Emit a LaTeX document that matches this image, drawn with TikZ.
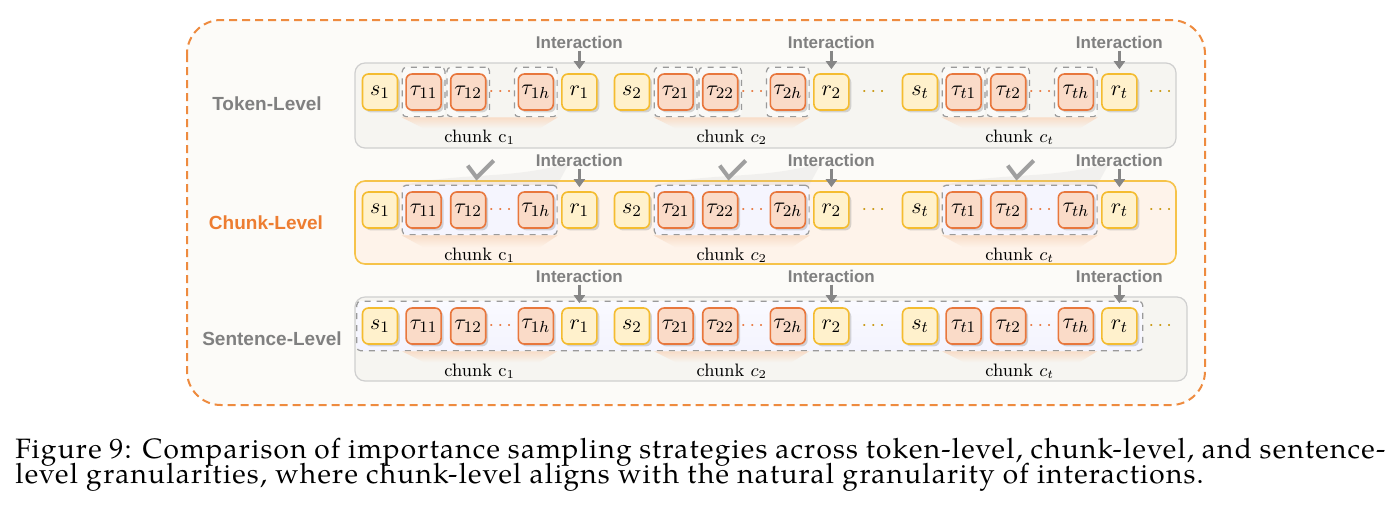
\documentclass[tikz,border=0pt]{standalone}
\usepackage{fontspec}
\setsansfont{Liberation Sans}
\newfontfamily\capfont{texgyrepagella-regular}[Extension=.otf,LetterSpace=4.5]
\usepackage{amsmath}
\usepackage{xcolor}
\usetikzlibrary{arrows.meta,positioning,fit,backgrounds,calc,shadows}

\definecolor{outerc}{HTML}{EE8B3F}
\definecolor{creamc}{HTML}{FCFBF8}
\definecolor{panelfill}{HTML}{F6F5F1}
\definecolor{panelline}{HTML}{CFCFCF}
\definecolor{chkfill}{HTML}{FEF3EA}
\definecolor{chkline}{HTML}{F6C34A}
\definecolor{taufill}{HTML}{FADBC8}
\definecolor{tauline}{HTML}{E8773D}
\definecolor{srfill}{HTML}{FFF1CC}
\definecolor{srline}{HTML}{F4BC30}
\definecolor{txtgray}{HTML}{808080}
\definecolor{chklab}{HTML}{ED7D31}
\definecolor{gdotc}{HTML}{C8960C}
\definecolor{grpline}{HTML}{9A9A9A}
\definecolor{fanc}{HTML}{F8DDC8}

\begin{document}
\begin{tikzpicture}[x=0.5pt,y=-0.5pt,>=Latex,
  srbox/.style={draw=srline,fill=srfill,rounded corners=3pt,line width=0.8pt,
    minimum width=17.5pt,minimum height=18pt,inner sep=0pt,font=\fontsize{11}{12}\selectfont,
    drop shadow={shadow xshift=1.2pt,shadow yshift=-1.2pt,opacity=0.3}},
  taubox/.style={srbox,draw=tauline,fill=taufill},
  tdots/.style={text=tauline,inner sep=0pt,font=\bfseries},
  gdots/.style={text=gdotc,inner sep=0pt,font=\bfseries},
  lvl/.style={font=\sffamily\bfseries\fontsize{9.5}{11}\selectfont},
  inter/.style={font=\sffamily\bfseries\fontsize{8.5}{10}\selectfont,text=txtgray,inner sep=1pt},
  iar/.style={-{Triangle[width=5.5pt,length=4pt]},line width=1.5pt,draw=gray!95},
  chunklab/.style={font=\small,inner sep=1pt},
  grp/.style={draw=grpline,dashed,rounded corners=2pt,line width=0.6pt,inner xsep=1.5pt,inner ysep=3pt},
  panel/.style={draw=panelline,fill=panelfill,rounded corners=5pt,line width=0.6pt},
  fan/.style={top color=fanc,bottom color=panelfill},
  beam/.style={fill=gray!60,fill opacity=0.14},
  tick/.style={draw=gray!75,line width=2pt},
  caption/.style={anchor=base west,inner sep=0pt,font=\capfont\fontsize{14}{15}\selectfont}]
\useasboundingbox (0,0) rectangle (1397,516);

% --- three rows of s / tau / r boxes ---
\foreach \lv/\ry in {tok/92,chk/210,sen/326}{
  \foreach \gx/\gi/\cn in {380/1/\mathrm{c}_1,632/2/c_2,920/t/c_t}{
    \node[srbox] (\lv-s\gi) at (\gx,\ry) {$s_{\gi}$};
    \node[taubox,right=3.5pt of \lv-s\gi] (\lv-a\gi) {$\tau_{\gi1}$};
    \node[taubox,right=4pt of \lv-a\gi] (\lv-b\gi) {$\tau_{\gi2}$};
    \node[taubox,right=15.5pt of \lv-b\gi] (\lv-h\gi) {$\tau_{\gi h}$};
    \node[srbox,right=3.5pt of \lv-h\gi] (\lv-r\gi) {$r_{\gi}$};
    \node[tdots] (\lv-d\gi) at ($(\lv-b\gi)!0.5!(\lv-h\gi)$) {$\cdots$};
    \node[inter] (\lv-i\gi) at ([yshift=25pt]\lv-r\gi) {Interaction};
    \draw[iar] (\lv-i\gi.south) -- ([yshift=2pt]\lv-r\gi.north);
    \node[chunklab] (\lv-c\gi) at ($($(\lv-a\gi)!0.5!(\lv-h\gi)$)+(0,45)$) {chunk $\cn$};
  }
  \node[gdots] (\lv-e2) at (875,\ry) {$\cdots$};
  \node[gdots] (\lv-et) at (1162,\ry) {$\cdots$};
}

\node[lvl,text=txtgray] (lv-tok) at (267,104) {Token-Level};
\node[lvl,text=chklab] (lv-chk) at (266,223) {Chunk-Level};
\node[lvl,text=txtgray] (lv-sen) at (272,339) {Sentence-Level};

\begin{scope}[on background layer]
\fill[white] (0,0) rectangle (1397,516);
\draw[outerc,dashed,line width=1pt,dash pattern=on 4pt off 2.5pt,fill=creamc,rounded corners=17pt]
  (187,20) rectangle (1205,405);
\draw[panel] (355,63) rectangle (1176,148);
\draw[panel,draw=chkline,fill=chkfill,line width=0.8pt] (355,181) rectangle (1176,264);
\draw[panel] (355,297) rectangle (1187,381);
% token-level: one dashed box per token
\foreach \gi in {1,2,t}{
  \foreach \k in {a,b,h}
    \node[grp,fill=white,fill opacity=0.5,fit=(tok-\k\gi)] (tok-g\k\gi) {};
  \shade[fan] (tok-ga\gi.south west) -- (tok-gh\gi.south east) -- ++(-18,11)
    -- ($(tok-ga\gi.south west)+(22,11)$) -- cycle;
}
% chunk-level: one dashed box per chunk
\foreach \gi in {1,2,t}{
  \fill[beam] ($(chk-a\gi.north west)+(-3,-6)$) coordinate (bw\gi) -- ($(chk-h\gi.north east)+(3,-6)$)
    -- ++(12,-22) to[out=195,in=12] (bw\gi) -- cycle;
  \node[grp,left color=gray!12!blue!4,middle color=gray!28!blue!6,right color=gray!12!blue!4,
    fit=(chk-a\gi)(chk-h\gi)] (chk-g\gi) {};
  \shade[top color=fanc,bottom color=chkfill] (chk-g\gi.south west) -- (chk-g\gi.south east)
    -- ++(-18,12) -- ($(chk-g\gi.south west)+(22,12)$) -- cycle;
}
% sentence-level: one dashed box for the whole response
\node[grp,inner xsep=2.5pt,top color=gray!6!blue!2,bottom color=gray!22!blue!5,
  fit=(sen-s1)(sen-rt)] (sen-g) {};
\foreach \gi in {1,2,t}
  \shade[fan] ($(sen-a\gi.west|-sen-g.south)+(-3,0)$) -- ($(sen-h\gi.east|-sen-g.south)+(3,0)$)
    -- ++(-18,11) -- ($(sen-a\gi.west|-sen-g.south)+(19,11)$) -- cycle;
\end{scope}

% ticks over the chunk-level boxes
\foreach \gi in {1,2,t}
  \draw[tick] ($(chk-g\gi.north)+(-12,-19)$) -- ++(9,12) -- ++(17,-17);

% caption
\node[caption] (cap1) at (15,458)
  {\makebox[685pt][s]{Figure 9: Comparison of importance sampling strategies across token-level, chunk-level, and sentence-}};
\node[caption] (cap2) at (15,483)
  {level granularities, where chunk-level aligns with the natural granularity of interactions.};
\end{tikzpicture}
\end{document}
